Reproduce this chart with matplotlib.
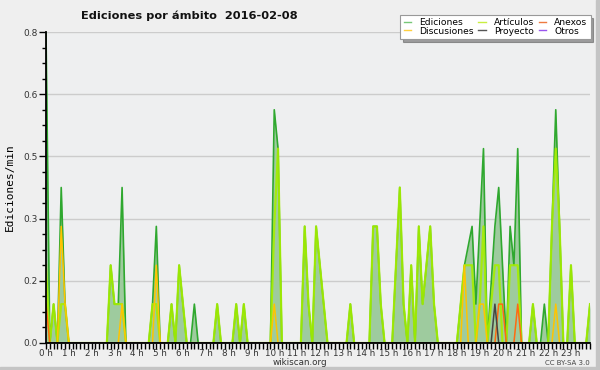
import numpy as np
import matplotlib
matplotlib.use('Agg')
import matplotlib.pyplot as plt
from matplotlib.lines import Line2D
from matplotlib.patches import Rectangle
from matplotlib.ticker import FixedLocator, MultipleLocator, FormatStrFormatter

# --- Data: edits/min in 10-minute bins (144 per day) ---
ediciones = [
    0.8, 0, 0.1, 0, 0.4, 0.1, 0, 0, 0, 0, 0, 0,
    0, 0, 0, 0, 0, 0.2, 0.1, 0.1, 0.4, 0, 0, 0,
    0, 0, 0, 0, 0.1, 0.3, 0, 0, 0, 0.1, 0, 0.2,
    0.1, 0, 0, 0.1, 0, 0, 0, 0, 0, 0.1, 0, 0,
    0, 0, 0.1, 0, 0.1, 0, 0, 0, 0, 0, 0, 0,
    0.6, 0.5, 0, 0, 0, 0, 0, 0, 0.3, 0.1, 0, 0.3,
    0.2, 0.1, 0, 0, 0, 0, 0, 0, 0.1, 0, 0, 0,
    0, 0, 0.3, 0.3, 0.1, 0, 0, 0, 0.2, 0.4, 0.1, 0,
    0.2, 0, 0.3, 0.1, 0.2, 0.3, 0.1, 0, 0, 0, 0, 0,
    0, 0.1, 0.2, 0.25, 0.3, 0.1, 0.3, 0.5, 0, 0.15, 0.3, 0.4,
    0.2, 0, 0.3, 0.2, 0.5, 0, 0, 0, 0.1, 0, 0, 0.1,
    0, 0.3, 0.6, 0.3, 0, 0, 0.2, 0, 0, 0, 0, 0.1,
]
articulos = [
    0.2, 0, 0.1, 0, 0.1, 0.1, 0, 0, 0, 0, 0, 0,
    0, 0, 0, 0, 0, 0.2, 0.1, 0.1, 0.1, 0, 0, 0,
    0, 0, 0, 0, 0.1, 0.1, 0, 0, 0, 0.1, 0, 0.2,
    0.1, 0, 0, 0, 0, 0, 0, 0, 0, 0.1, 0, 0,
    0, 0, 0.1, 0, 0.1, 0, 0, 0, 0, 0, 0, 0,
    0.3, 0.5, 0, 0, 0, 0, 0, 0, 0.3, 0.1, 0, 0.3,
    0.2, 0.1, 0, 0, 0, 0, 0, 0, 0.1, 0, 0, 0,
    0, 0, 0.3, 0.3, 0.1, 0, 0, 0, 0.2, 0.4, 0.1, 0,
    0.2, 0, 0.3, 0.1, 0.2, 0.3, 0.1, 0, 0, 0, 0, 0,
    0, 0.1, 0.2, 0.2, 0.2, 0, 0.1, 0.3, 0, 0.1, 0.2, 0.2,
    0, 0, 0.2, 0.2, 0.2, 0, 0, 0, 0.1, 0, 0, 0,
    0, 0.3, 0.5, 0.3, 0, 0, 0.2, 0, 0, 0, 0, 0.1,
]
discusiones = [
    0, 0, 0, 0, 0.3, 0.1, 0, 0, 0, 0, 0, 0,
    0, 0, 0, 0, 0, 0, 0, 0, 0.1, 0, 0, 0,
    0, 0, 0, 0, 0, 0.2, 0, 0, 0, 0, 0, 0,
    0, 0, 0, 0, 0, 0, 0, 0, 0, 0, 0, 0,
    0, 0, 0, 0, 0, 0, 0, 0, 0, 0, 0, 0,
    0.1, 0, 0, 0, 0, 0, 0, 0, 0, 0, 0, 0,
    0, 0, 0, 0, 0, 0, 0, 0, 0, 0, 0, 0,
    0, 0, 0, 0, 0, 0, 0, 0, 0, 0, 0, 0,
    0, 0, 0, 0, 0, 0, 0, 0, 0, 0, 0, 0,
    0, 0, 0.2, 0, 0, 0, 0.1, 0.1, 0, 0, 0, 0,
    0, 0, 0, 0, 0, 0, 0, 0, 0, 0, 0, 0,
    0, 0, 0.1, 0, 0, 0, 0, 0, 0, 0, 0, 0,
]
# sparse series: bin index -> value
anexos = {0: 0.1, 119: 0.1, 120: 0.1, 124: 0.1}
proyecto = {118: 0.1}
otros = {}

hour_labels = [f"{h} h" for h in range(24)]
legend_names = ["Ediciones", "Discusiones", "Artículos", "Proyecto", "Anexos", "Otros"]


def sparse(d, n=144):
    s = np.zeros(n)
    for k, v in d.items():
        s[k] = v
    return s


x = np.arange(144) / 6.0  # hours

BG = '#efefef'
fig = plt.figure(figsize=(6, 3.7), dpi=100, facecolor=BG)
ax = fig.add_axes([46 / 600, 1 - 343 / 370, 544 / 600, 311 / 370])
ax.set_facecolor('#eeeff0')

# --- series ---
ax.fill_between(x, ediciones, 0, color='#9ecb9e', lw=0, zorder=1)
ax.plot(x, ediciones, color='#2fa82f', lw=1.2, zorder=2)
ax.plot(x, articulos, color='#a6ee00', lw=1.6, zorder=3, alpha=0.9)
ax.plot(x, discusiones, color='#ffc400', lw=1.1, zorder=4)
ax.plot(x, sparse(anexos), color='#ff6a10', lw=1.1, zorder=4)
ax.plot(x, sparse(proyecto), color='#444444', lw=1.1, zorder=4)
ax.plot(x, sparse(otros), color='#8844ee', lw=1.1, zorder=0.5)

# --- axes ---
ax.set_xlim(0, 143 / 6.0)
ax.set_ylim(0, 0.8)
yt = [0, 0.16, 0.32, 0.48, 0.64, 0.8]
ax.yaxis.set_major_locator(FixedLocator(yt))
ax.yaxis.set_minor_locator(MultipleLocator(0.04))
ax.yaxis.set_major_formatter(FormatStrFormatter('%.1f'))
ax.set_xticks(range(24))
ax.set_xticklabels(hour_labels)
ax.xaxis.set_minor_locator(MultipleLocator(1 / 6.0))
ax.grid(axis='y', color='#cccccc', lw=1, zorder=0)
ax.set_axisbelow(True)

for s in ['top', 'right']:
    ax.spines[s].set_visible(False)
for s in ['left', 'bottom']:
    ax.spines[s].set_linewidth(1.3)
    ax.spines[s].set_zorder(5)

ax.tick_params(axis='y', which='major', length=5, width=1, labelsize=6.5,
               labelcolor='#333333', pad=1)
ax.tick_params(axis='y', which='minor', length=3, width=1)
ax.tick_params(axis='x', which='major', length=4, width=1, labelsize=6.3,
               labelcolor='#333333', pad=0)
ax.tick_params(axis='x', which='minor', length=4, width=1)

ax.set_ylabel("Ediciones/min", family='DejaVu Sans Mono', fontsize=8, labelpad=6)

# --- texts ---
fig.text(0.315, 0.957, "Ediciones por ámbito  2016-02-08", ha='center', va='center',
         fontsize=8.2, fontweight='bold', color='#111111')
fig.text(0.5, 0.019, "wikiscan.org", ha='center', va='center', fontsize=6.3, color='#333333')
fig.text(0.983, 0.02, "CC BY-SA 3.0", ha='right', va='center', fontsize=5, color='#444444')

# --- legend ---
leg_colors = ['#77c777', '#ffd040', '#c8ee40', '#555555', '#ee7a40', '#9955ee']
handles = [Line2D([], [], color=c, lw=1) for c in leg_colors]
leg = fig.legend(handles, legend_names, ncol=3, loc='upper right',
                 bbox_to_anchor=(0.992, 0.972), fontsize=6.6,
                 handlelength=0.8, handletextpad=0.9, columnspacing=0.5,
                 labelspacing=-0.05, borderpad=0.35, frameon=True, fancybox=False,
                 shadow=True)
leg.get_frame().set_edgecolor('#999999')
leg.get_frame().set_linewidth(0.8)

# --- outer frame ---
fig.patches.append(Rectangle((0.994, 0), 0.006, 1, transform=fig.transFigure,
                             color='#c4c4c4', zorder=-1))
fig.patches.append(Rectangle((0, 0), 1, 0.008, transform=fig.transFigure,
                             color='#c4c4c4', zorder=-1))

fig.savefig('out.png', dpi=100, facecolor=BG)
